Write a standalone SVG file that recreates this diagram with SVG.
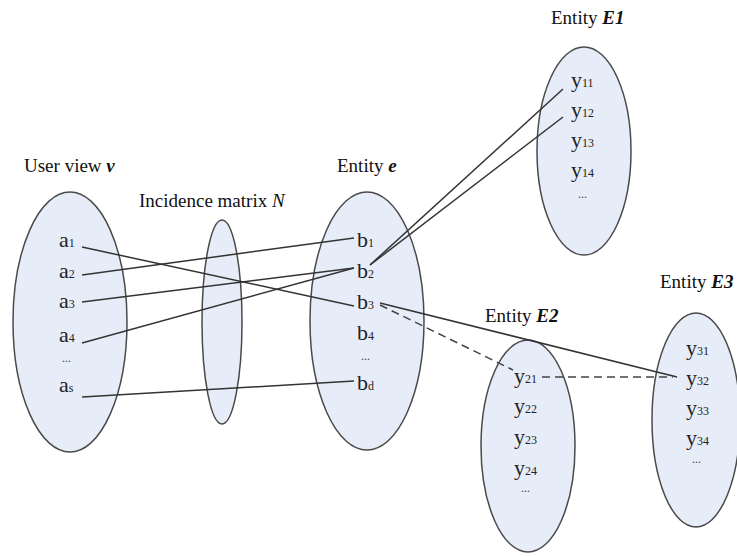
<svg xmlns="http://www.w3.org/2000/svg" width="737" height="556" viewBox="0 0 737 556">
<style>
.set{fill:#e7edf8;stroke:#4a4a4a;stroke-width:1.5}
.lbl{font-family:"Liberation Serif","Times New Roman",serif;font-size:19px;fill:#111}
.it{font-family:"Liberation Serif","Times New Roman",serif;font-size:22px;fill:#222}
.sub{font-size:12px}
.dots{font-family:"Liberation Serif",serif;font-size:12px;fill:#444}
.bi{font-style:italic;font-weight:bold}
.ln{stroke:#333;stroke-width:1.5;fill:none}
.dash{stroke:#444;stroke-width:1.5;fill:none;stroke-dasharray:8 5}
</style>
<rect width="737" height="556" fill="#ffffff"/>
<g id="userview">
<ellipse class="set" cx="70" cy="322" rx="57" ry="130"/>
<text class="lbl" x="24" y="172">User view <tspan class="bi">v</tspan></text>
<text class="it" x="59" y="247">a<tspan class="sub">1</tspan></text>
<text class="it" x="59" y="278">a<tspan class="sub">2</tspan></text>
<text class="it" x="59" y="308">a<tspan class="sub">3</tspan></text>
<text class="it" x="59" y="342">a<tspan class="sub">4</tspan></text>
<text class="dots" x="62" y="362">...</text>
<text class="it" x="59" y="392">a<tspan class="sub">s</tspan></text>
</g>
<g id="incidence">
<ellipse class="set" cx="222" cy="322" rx="20" ry="102"/>
<text class="lbl" x="139" y="207">Incidence matrix <tspan font-style="italic">N</tspan></text>
</g>
<g id="entity-e">
<ellipse class="set" cx="367" cy="321" rx="57" ry="129"/>
<text class="lbl" x="337" y="172">Entity <tspan class="bi">e</tspan></text>
<text class="it" x="357" y="247">b<tspan class="sub">1</tspan></text>
<text class="it" x="357" y="278">b<tspan class="sub">2</tspan></text>
<text class="it" x="357" y="309">b<tspan class="sub">3</tspan></text>
<text class="it" x="357" y="340">b<tspan class="sub">4</tspan></text>
<text class="dots" x="361" y="360">...</text>
<text class="it" x="357" y="390">b<tspan class="sub">d</tspan></text>
</g>
<g id="entity-E1">
<ellipse class="set" cx="584" cy="151" rx="47" ry="104"/>
<text class="lbl" x="551" y="24">Entity <tspan class="bi">E1</tspan></text>
<text class="it" x="571" y="87">y<tspan class="sub">11</tspan></text>
<text class="it" x="571" y="117">y<tspan class="sub">12</tspan></text>
<text class="it" x="571" y="147">y<tspan class="sub">13</tspan></text>
<text class="it" x="571" y="177">y<tspan class="sub">14</tspan></text>
<text class="dots" x="578" y="198">...</text>
</g>
<g id="entity-E2">
<ellipse class="set" cx="528" cy="446" rx="47" ry="106"/>
<text class="lbl" x="485" y="322">Entity <tspan class="bi">E2</tspan></text>
<text class="it" x="514" y="383">y<tspan class="sub">21</tspan></text>
<text class="it" x="514" y="413">y<tspan class="sub">22</tspan></text>
<text class="it" x="514" y="444">y<tspan class="sub">23</tspan></text>
<text class="it" x="514" y="475">y<tspan class="sub">24</tspan></text>
<text class="dots" x="521" y="492">...</text>
</g>
<g id="entity-E3">
<ellipse class="set" cx="696" cy="420" rx="44" ry="107"/>
<text class="lbl" x="660" y="288">Entity <tspan class="bi">E3</tspan></text>
<text class="it" x="686" y="355">y<tspan class="sub">31</tspan></text>
<text class="it" x="686" y="385">y<tspan class="sub">32</tspan></text>
<text class="it" x="686" y="415">y<tspan class="sub">33</tspan></text>
<text class="it" x="686" y="445">y<tspan class="sub">34</tspan></text>
<text class="dots" x="692" y="463">...</text>
</g>
<g id="connectors">
<line class="ln" x1="82" y1="247" x2="354" y2="306"/>
<line class="ln" x1="82" y1="275" x2="354" y2="238"/>
<line class="ln" x1="82" y1="302" x2="354" y2="268"/>
<line class="ln" x1="82" y1="343" x2="354" y2="268"/>
<line class="ln" x1="82" y1="397" x2="354" y2="381"/>
<line class="ln" x1="370" y1="265" x2="563" y2="89"/>
<line class="ln" x1="370" y1="265" x2="563" y2="117"/>
<line class="ln" x1="380" y1="303" x2="677" y2="377"/>
<line class="dash" x1="380" y1="305" x2="513" y2="370"/>
<line class="dash" x1="542" y1="377" x2="673" y2="377"/>
</g>
</svg>
